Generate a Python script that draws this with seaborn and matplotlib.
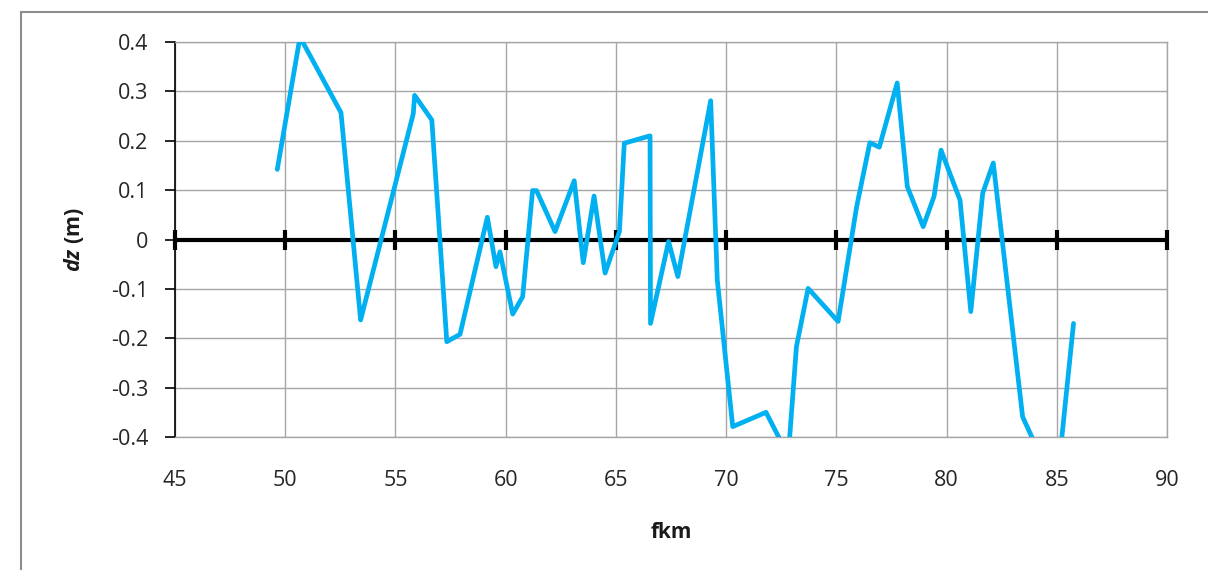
import matplotlib
matplotlib.use("Agg")
import matplotlib.pyplot as plt
import seaborn as sns
import pandas as pd
from matplotlib.patches import Rectangle

# Height differences along the river kilometre
fkm = [49.64, 50.67, 52.53, 53.42, 55.81, 55.87, 56.65, 57.33, 57.93, 59.17,
       59.56, 59.74, 60.32, 60.77, 61.22, 61.40, 62.24, 63.11, 63.52, 64.01,
       64.51, 65.16, 65.38, 66.55, 66.57, 67.39, 67.81, 69.30, 69.60, 70.30,
       71.81, 72.82, 73.19, 73.72, 75.08, 75.92, 76.52, 76.95, 77.76, 78.22,
       78.94, 79.43, 79.75, 80.61, 81.10, 81.64, 82.12, 83.45, 84.98, 85.76]
dz = [0.142, 0.41, 0.257, -0.163, 0.255, 0.292, 0.242, -0.207, -0.192, 0.045,
      -0.055, -0.025, -0.151, -0.116, 0.099, 0.099, 0.016, 0.119, -0.047, 0.088,
      -0.068, 0.016, 0.195, 0.210, -0.170, -0.004, -0.075, 0.281, -0.082, -0.379,
      -0.350, -0.438, -0.217, -0.099, -0.166, 0.066, 0.196, 0.187, 0.317, 0.107,
      0.026, 0.087, 0.181, 0.080, -0.146, 0.094, 0.155, -0.359, -0.509, -0.170]

# Reference (zero) line with a mark every 5 km
ref_km = [45, 50, 55, 60, 65, 70, 75, 80, 85, 90]
ref_dz = [0, 0, 0, 0, 0, 0, 0, 0, 0, 0]

x_ticks = [45, 50, 55, 60, 65, 70, 75, 80, 85, 90]
y_ticks = [-0.4, -0.3, -0.2, -0.1, 0, 0.1, 0.2, 0.3, 0.4]
y_tick_labels = ["-0.4", "-0.3", "-0.2", "-0.1", "0", "0.1", "0.2", "0.3", "0.4"]

sns.set_style("white")
plt.rcParams["font.family"] = ["Open Sans", "DejaVu Sans"]
plt.rcParams["mathtext.fontset"] = "custom"
plt.rcParams["mathtext.bfit"] = "Open Sans:bold:italic"
plt.rcParams["mathtext.it"] = "Open Sans:italic"
plt.rcParams["mathtext.bf"] = "Open Sans:bold"

fig = plt.figure(figsize=(12.08, 5.70), dpi=100)
fig.patch.set_facecolor("white")

# chart frame
fig.patches.append(Rectangle((21 / 1208, -0.1), 1.2, 1 - 12 / 570 + 0.1,
                             transform=fig.transFigure, fill=False,
                             edgecolor="#8c8c8c", linewidth=1.5, zorder=0))

ax = fig.add_axes([175 / 1208, 1 - 437 / 570, (1167 - 175) / 1208, (437 - 42) / 570])

df = pd.DataFrame({"fkm": fkm, "dz": dz})
ref = pd.DataFrame({"fkm": ref_km, "dz": ref_dz})

sns.lineplot(data=ref, x="fkm", y="dz", ax=ax, color="black", linewidth=3.0,
             marker="|", markersize=14, markeredgewidth=3.0,
             markeredgecolor="black", estimator=None, sort=False, zorder=3,
             clip_on=False)
sns.lineplot(data=df, x="fkm", y="dz", ax=ax, color="#00B0F0", linewidth=3.4,
             estimator=None, sort=False, zorder=4)

ax.set_xlim(45, 90)
ax.set_ylim(-0.4, 0.4)
ax.set_xticks(x_ticks)
ax.set_yticks(y_ticks)
ax.set_yticklabels(y_tick_labels)

ax.grid(True, color="#a6a6a6", linewidth=1.0)
ax.set_axisbelow(True)
for side in ["top", "right", "bottom"]:
    ax.spines[side].set_color("#a6a6a6")
    ax.spines[side].set_linewidth(1.0)
ax.spines["left"].set_color("black")
ax.spines["left"].set_linewidth(1.2)

ax.tick_params(axis="y", which="major", direction="out", length=7, width=1.2,
               color="black", pad=12, labelsize=15.5, labelcolor="#262626", left=True)
ax.tick_params(axis="x", which="major", length=0, pad=24, labelsize=15.5,
               labelcolor="#262626")

ax.set_xlabel("fkm", fontsize=15, fontweight="bold", labelpad=22, color="#1a1a1a")
ax.set_ylabel(r"$\mathbfit{dz}$ (m)", fontsize=15.5, fontweight="bold", labelpad=18,
              color="#1a1a1a")

fig.savefig("out.png", dpi=100, facecolor="white")
